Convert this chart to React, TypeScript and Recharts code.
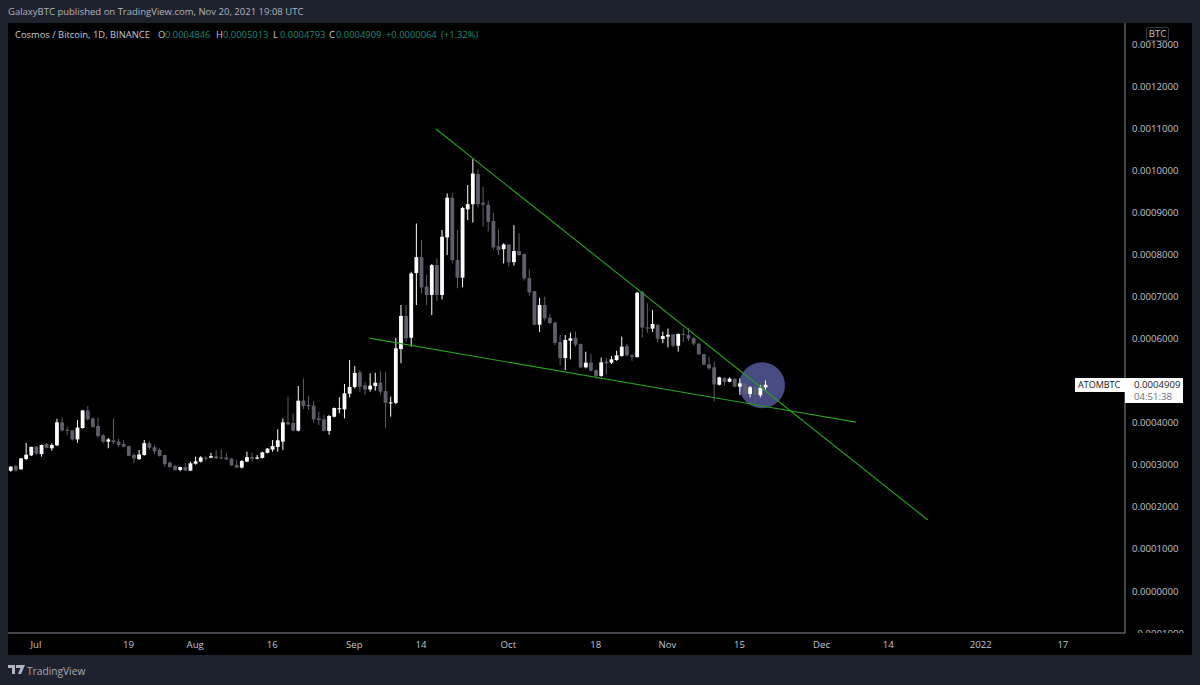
import React from "react";
import { ComposedChart, Bar, XAxis, YAxis, ReferenceLine, ReferenceDot } from "recharts";

// All prices in micro-BTC (1e-6 BTC), one per daily candle, first candle = 26 Jun 2021
const opens = [
  286.5,297.6,289.7,314.3,323,343.7,326,350,339.7,346.8,401.6,384,382.5,361,388,430,411,393,370.6,355.6,
  358.7,355.6,350,345,323.8,314,323.8,351.6,342,335.7,323.8,305.6,297.6,288,295,286.5,303,308,317.5,317.5,
  320.6,318,318,315,300,293.7,308,319,315,316.7,329,337,342.9,355.6,401.6,400,381.7,453,442.9,441,
  411,408.7,381,415,433,432.5,469.8,485.7,520.6,489.7,480,488,496,476,448,448,576,654.8,603,757,
  795,724.6,704.8,776,704.8,842,936.5,788,746,908.7,921,992.8,924.6,919.8,881,821,814,825,783,809.5,
  802,745,714,634,681,650.8,638.9,592.8,554.8,596,603,588,532.5,543.6,526,512,546,543.6,550,559.5,
  583,561,557,712,627.8,624.6,634,600,605.6,611,584,612,609.5,602,589,564,539.7,532.5,491,507,
  498,505.6,486.5,494.4,469,485,465.9,484.6,
];
const highs = [
  297.6,300,316,353,343.7,345,349,353,351.6,410,412.7,391,383,407,431,440.5,412.7,413.5,373.8,364,
  411,362.7,359.5,346,328,335.7,359.5,355.6,347.6,339.7,325,308.7,300.8,296,304,308,320,321,320,329,
  335.7,338,328,316.7,312,312,331.7,329,323.8,331.7,340.5,359.5,385,411,462.7,423,488,506,464,453,
  427,419,419,437,461,493,550,535.7,526,498,518,519.8,523.8,522,462.7,603,681,681,760,875,
  835.7,752,778.6,792,859.5,946.8,948,859.5,915,966.7,1028,1004,962.7,929,900.8,861,827.8,825,871,851.6,
  804,766,715,698,700.8,659.5,640.5,609.5,609.5,615,617.5,589.7,569.8,564,527.8,556,556,559.5,572,605.6,
  588,564,712,715,685,669,635,617.5,625,612,613.5,626,627,604,589.7,564,558,546,510,508.7,
  508.7,505.6,506,496,488,492.8,490.5,501.3,
];
const lows = [
  284,284,289,312,321.4,324.6,320,339,334,345,380,372,358.7,353,386.5,405.5,389,365,351.6,339.7,
  350,342,342,321,304,312,322,337,326,320,296,293.7,286.5,285,285.7,285.7,300.8,306,310,316,
  314,313.5,312,297.6,293,292,307,308.7,313.5,315,327.8,331.7,331.7,335.7,395,380,380,433,431,400.8,
  395,380,372,413.5,423,411,461,482.5,474.6,466.7,474.6,477,466.7,388.9,415,445,542,593.6,581.7,681,
  708.7,681,657,691,694,800,780,720.6,723,883,877,913.5,867.5,856,812,800,780,772,774.6,797.6,
  739,703,633,617,643.6,635.7,585.7,538,526,551.6,581.7,530,530,522,505.6,510,515,540.5,548,558,
  558,548,556,604,615,617,592,590,580,580,570,593,595,585,562,538,526,451,489.7,489,
  497.6,485,466.7,466.7,461,448,461,479.3,
];
const closes = [
  296,287.3,316,324.6,343,327,347.6,340.5,347.6,401.6,382.5,381,361,389,430,408.7,391,369,355.6,361,
  354,347.6,343.7,322,316,325,352,341,332.5,322,302,295,288,295,287,304,308.7,318,315,321,
  316,316,313.5,299,293.7,309.5,319,315,318,330,339,345,358.7,401.6,396.8,381.7,453,441,439.7,408.7,
  407,381.7,416.7,435.7,435,470.6,485.7,519,486.5,480,488.9,496,474.6,448,449,577.8,654.8,601.6,756,795,
  723,704.8,776,704.8,843.6,936.5,788,746,912,921,994,921,919.8,879,818,812,825,782.5,809.5,800,
  744,711,634,681,649,638,591,554.8,597.6,601.6,586.5,532.5,543.7,524.6,512,544.4,542,551.6,561,581.7,
  561,557,710,627,624.6,635.7,600.8,607,610,584,612,609.5,600.8,589,563.5,539,530,492,508.7,498,
  505.6,486.5,494.4,468,485,466.7,484,490.9,
];

const axisDays = [0, 18, 31, 46, 62, 75, 92, 109, 123, 137, 153, 166, 184, 200];
const axisLabels = ["Jul", "19", "Aug", "16", "Sep", "14", "Oct", "18", "Nov", "15", "Dec", "14", "2022", "17"];
const priceTicks = [-0.0001, 0, 0.0001, 0.0002, 0.0003, 0.0004, 0.0006, 0.0007, 0.0008, 0.0009, 0.001, 0.0011, 0.0012, 0.0013];

const firstDay = -5;
const lineA = [{ x: 77.9, y: 0.0011 }, { x: 173.7, y: 0.000169 }];
const lineB = [{ x: 64.9, y: 0.000602 }, { x: 159.7, y: 0.000402 }];
const circle = { x: 141.4, y: 0.00049 };

const legendValues = [
  { key: "O", value: "0.0004846", kx: 158, vx: 165 },
  { key: "H", value: "0.0005013", kx: 216, vx: 223 },
  { key: "L", value: "0.0004793", kx: 273, vx: 280 },
  { key: "C", value: "0.0004909", kx: 329, vx: 336 },
];

const table = opens.map((o, i) => ({
  day: firstDay + i,
  open: o / 1e6,
  high: highs[i] / 1e6,
  low: lows[i] / 1e6,
  close: closes[i] / 1e6,
  range: [lows[i] / 1e6, highs[i] / 1e6],
}));

const FONT = '"Open Sans", sans-serif';
const UP = "#ffffff";
const DOWN = "#5d606b";
const GREEN = "#28a220";

function Candle(props: any) {
  const { x, y, width, height, payload } = props;
  const cx = x + width / 2;
  const span = payload.high - payload.low || 1;
  const k = height / span;
  const top = y + (payload.high - Math.max(payload.open, payload.close)) * k;
  const bot = y + (payload.high - Math.min(payload.open, payload.close)) * k;
  const color = payload.close >= payload.open ? UP : DOWN;
  return (
    <g>
      <rect x={cx - 0.5} y={y} width={1} height={height} fill={color} />
      <rect x={cx - 1.9} y={top} width={3.8} height={Math.max(bot - top, 1)} fill={color} />
    </g>
  );
}

function PriceTick(props: any) {
  const { x, y, payload } = props;
  const v = payload.value as number;
  const label = (v < 0 ? "\u2212" : "") + Math.abs(v).toFixed(7);
  const id = "clip" + Math.round(v * 1e5 + 100);
  return (
    <g>
      <clipPath id={id}>
        <rect x={x} y={0} width={67} height={610} />
      </clipPath>
      <text x={x + 7} y={y + 3.5} fill="#c3c5cc" fontSize={9.6} fontFamily={FONT} clipPath={`url(#${id})`}>
        {label}
      </text>
    </g>
  );
}

const abs = (left: number, top: number, extra: React.CSSProperties = {}): React.CSSProperties => ({
  position: "absolute",
  left,
  top,
  fontFamily: FONT,
  whiteSpace: "nowrap",
  lineHeight: "14px",
  ...extra,
});

export default function App() {
  return (
    <div style={{ position: "absolute", left: 0, top: 0, width: 1200, height: 685, background: "#1e222d", overflow: "hidden" }}>
      <div style={abs(8, 5, { fontSize: 9.5, color: "#b2b5be" })}>GalaxyBTC published on TradingView.com, Nov 20, 2021 19:08 UTC</div>

      <div style={{ position: "absolute", left: 8, top: 23, width: 1184, height: 632, background: "#000" }}>
        <ComposedChart
          width={1184}
          height={632}
          data={table}
          margin={{ top: 0, right: 0, bottom: 0, left: 0 }}
          barGap={0}
        >
          <XAxis
            dataKey="day"
            type="number"
            domain={[-5.45, 212.1]}
            allowDataOverflow
            ticks={axisDays}
            interval={0}
            height={22}
            tickSize={0}
            tickMargin={8}
            tick={{ fill: "#c3c5cc", fontSize: 9.6, fontFamily: FONT }}
            axisLine={{ stroke: "#868993" }}
            tickFormatter={(d: number) => axisLabels[axisDays.indexOf(d)]}
          />
          <YAxis
            orientation="right"
            type="number"
            domain={[-0.0001, 0.00135238]}
            allowDataOverflow
            ticks={priceTicks}
            interval={0}
            width={67}
            tickSize={0}
            tickMargin={0}
            tick={<PriceTick />}
            axisLine={{ stroke: "#868993" }}
          />
          <ReferenceDot {...({ zIndex: 50 } as any)} x={circle.x} y={circle.y} r={23} fill="#484a82" stroke="none" ifOverflow="visible" />
          <Bar dataKey="range" barSize={4} shape={<Candle />} isAnimationActive={false} />
          <ReferenceLine segment={lineA} stroke={GREEN} strokeWidth={1.1} ifOverflow="visible" />
          <ReferenceLine segment={lineB} stroke={GREEN} strokeWidth={1.1} ifOverflow="visible" />
        </ComposedChart>
      </div>

      {/* Legend */}
      <div style={abs(15, 28, { fontSize: 9.4, color: "#c8cad0" })}>Cosmos / Bitcoin, 1D, BINANCE</div>
      {legendValues.map((l) => (
        <React.Fragment key={l.key}>
          <div style={abs(l.kx, 28, { fontSize: 9.4, color: "#c8cad0" })}>{l.key}</div>
          <div style={abs(l.vx, 28, { fontSize: 9.4, color: "#1f8a7a" })}>{l.value}</div>
        </React.Fragment>
      ))}
      <div style={abs(386, 28, { fontSize: 9.4, color: "#1f8a7a" })}>+0.0000064</div>
      <div style={abs(441, 28, { fontSize: 9.4, color: "#1f8a7a" })}>(+1.32%)</div>

      {/* Currency box */}
      <div
        style={abs(1146, 27, {
          width: 23,
          height: 14,
          border: "1px solid #363a45",
          boxSizing: "border-box",
          borderRadius: 2,
          fontSize: 9.6,
          lineHeight: "12px",
          textAlign: "center",
          color: "#c3c5cc",
        })}
      >
        BTC
      </div>

      {/* Last price label */}
      <div style={{ position: "absolute", left: 1075, top: 378, width: 108, height: 14, background: "#fff" }} />
      <div style={{ position: "absolute", left: 1125, top: 392, width: 58, height: 11, background: "#fff" }} />
      <div style={abs(1078, 378, { fontSize: 9, color: "#131722" })}>ATOMBTC</div>
      <div style={abs(1134, 378, { fontSize: 9.6, color: "#131722" })}>0.0004909</div>
      <div style={abs(1134, 390, { fontSize: 9.6, color: "#6a6d78" })}>04:51:38</div>

      {/* Footer */}
      <svg style={{ position: "absolute", left: 8, top: 665 }} width={17} height={10} viewBox="0 0 17 10">
        <path d="M0 0H7V9H4V3H0Z M8 0H17L13 9H10L12.5 3H8Z" fill="#b2b5be" />
      </svg>
      <div style={abs(27, 664, { fontSize: 10.2, color: "#a8abb4" })}>TradingView</div>
    </div>
  );
}
